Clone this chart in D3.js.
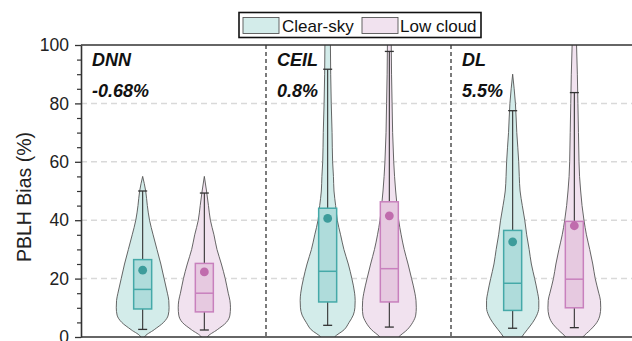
<!DOCTYPE html>
<html>
<head>
<meta charset="utf-8">
<script src="https://cdn.jsdelivr.net/npm/d3@7"></script>
<style>
  html, body { margin: 0; padding: 0; background: #fff; }
  svg { display: block; font-family: "Liberation Sans", Arial, sans-serif; }
</style>
</head>
<body>
<svg id="chart" width="632" height="341"></svg>
<script>
// ---- data -------------------------------------------------------------
const groups = ["DNN", "CEIL", "DL"];
const groupBias = ["-0.68%", "0.8%", "5.5%"];
const series = ["Clear-sky", "Low cloud"];
const yTicks = [0, 20, 40, 60, 80, 100];

// violin order: DNN clear, DNN low, CEIL clear, CEIL low, DL clear, DL low
const whiskerLow  = [2.6, 2.4, 4.0, 3.4, 3.0, 3.2];
const q1Values    = [9.6, 8.6, 12.0, 12.0, 9.1, 10.0];
const medians     = [16.3, 15.0, 22.5, 23.4, 18.4, 19.8];
const q3Values    = [26.5, 25.2, 44.1, 46.3, 36.5, 39.6];
const whiskerHigh = [50.0, 49.3, 91.7, 97.8, 77.5, 83.7];
const means       = [22.9, 22.3, 40.6, 41.5, 32.6, 38.1];

// kernel density (relative width) evaluated on a shared grid of bias values
const densityGrid = [-4, 0, 2.5, 5, 7.5, 10, 12.5, 15, 20, 25, 30, 35, 40, 45, 50, 55, 60, 70, 80, 90, 100, 110, 120];
const densityDnnClear  = [0, .07, .42, .76, .93, .96, .95, .90, .78, .66, .52, .38, .25, .17, .11, 0, 0, 0, 0, 0, 0, 0, 0];
const densityDnnLow    = [0, .11, .47, .80, .93, .95, .93, .87, .76, .62, .46, .35, .22, .15, .08, 0, 0, 0, 0, 0, 0, 0, 0];
const densityCeilClear = [.07, .25, .60, .78, .93, .99, 1.0, .98, .88, .75, .59, .47, .35, .29, .23, .21, .18, .16, .13, .11, .10, .05, 0];
const densityCeilLow   = [.15, .34, .65, .85, .96, .98, .97, .93, .81, .68, .54, .43, .34, .28, .23, .19, .16, .12, .10, .08, .07, .04, 0];
const densityDlClear   = [.15, .33, .53, .73, .88, .95, .95, .91, .80, .68, .60, .51, .44, .35, .27, .24, .22, .15, .10, 0, 0, 0, 0];
const densityDlLow     = [.13, .31, .59, .82, .93, .96, .95, .89, .76, .67, .56, .44, .35, .28, .23, .19, .17, .15, .13, .11, .08, .04, 0];
const densities = [densityDnnClear, densityDnnLow, densityCeilClear, densityCeilLow, densityDlClear, densityDlLow];

// ---- styling ----------------------------------------------------------
const palette = {
  "Clear-sky": { violin: "#d3ecea", box: "#afdcdb", stroke: "#45a9a8", dot: "#3d9c9b" },
  "Low cloud": { violin: "#f1e2ef", box: "#e6c9e0", stroke: "#c880bd", dot: "#c06cad" }
};

const svg = d3.select("#chart");
const plot = { left: 81, right: 636, top: 45, bottom: 337 };

const x = d3.scaleBand().domain(groups).range([plot.left, plot.right]).padding(0);
const xInner = d3.scalePoint().domain(series).range([0, x.bandwidth()]).padding(1);
const y = d3.scaleLinear().domain([0, 100]).range([plot.bottom, plot.top]);
const w = d3.scaleLinear().domain([0, 1]).range([0, 27.5]);

svg.append("defs").append("clipPath").attr("id", "plotClip")
  .append("rect")
  .attr("x", plot.left).attr("y", plot.top)
  .attr("width", plot.right - plot.left).attr("height", plot.bottom - plot.top);

// horizontal grid
svg.append("g").selectAll("line")
  .data(yTicks.filter(t => t > 0 && t < 100))
  .join("line")
  .attr("x1", plot.left).attr("x2", plot.right)
  .attr("y1", d => y(d)).attr("y2", d => y(d))
  .attr("stroke", "#d9d9d9").attr("stroke-width", 1.5)
  .attr("stroke-dasharray", "6,4");

// group separators
svg.append("g").selectAll("line")
  .data(groups.slice(1))
  .join("line")
  .attr("x1", d => x(d)).attr("x2", d => x(d))
  .attr("y1", plot.top).attr("y2", plot.bottom)
  .attr("stroke", "#444").attr("stroke-width", 1.4)
  .attr("stroke-dasharray", "4,3");

// keep the density profile only up to the tip where it closes to zero
function trimProfile(profile) {
  let last = profile.length - 1;
  while (last > 0 && profile[last].d === 0 && profile[last - 1].d === 0) last--;
  return profile.slice(0, last + 1);
}

// build violin records
const violins = [];
groups.forEach((g, gi) => {
  series.forEach((s, si) => {
    const i = gi * series.length + si;
    violins.push({
      group: g, series: s, i,
      cx: x(g) + xInner(s),
      density: trimProfile(densityGrid.map((v, k) => ({ v, d: densities[i][k] }))),
      lo: whiskerLow[i], q1: q1Values[i], med: medians[i],
      q3: q3Values[i], hi: whiskerHigh[i], mean: means[i]
    });
  });
});

const marks = svg.append("g").attr("clip-path", "url(#plotClip)");

const violinArea = (cx) => d3.area()
  .y(d => y(d.v))
  .x0(d => cx - w(d.d))
  .x1(d => cx + w(d.d))
  .curve(d3.curveMonotoneY);

const vg = marks.selectAll("g.violin").data(violins).join("g").attr("class", "violin");

vg.append("path")
  .attr("d", d => violinArea(d.cx)(d.density))
  .attr("fill", d => palette[d.series].violin)
  .attr("stroke", "#555").attr("stroke-width", 0.9);

// whiskers
const capHalf = 4.5;
vg.append("line")
  .attr("x1", d => d.cx).attr("x2", d => d.cx)
  .attr("y1", d => y(d.lo)).attr("y2", d => y(d.hi))
  .attr("stroke", "#333").attr("stroke-width", 1.1);
vg.append("line")
  .attr("x1", d => d.cx - capHalf).attr("x2", d => d.cx + capHalf)
  .attr("y1", d => y(d.lo)).attr("y2", d => y(d.lo))
  .attr("stroke", "#333").attr("stroke-width", 1.3);
vg.append("line")
  .attr("x1", d => d.cx - capHalf).attr("x2", d => d.cx + capHalf)
  .attr("y1", d => y(d.hi)).attr("y2", d => y(d.hi))
  .attr("stroke", "#333").attr("stroke-width", 1.3);

// boxes
const boxHalf = 9;
vg.append("rect")
  .attr("x", d => d.cx - boxHalf).attr("width", boxHalf * 2)
  .attr("y", d => y(d.q3)).attr("height", d => y(d.q1) - y(d.q3))
  .attr("fill", d => palette[d.series].box)
  .attr("stroke", d => palette[d.series].stroke).attr("stroke-width", 1.5);
vg.append("line")
  .attr("x1", d => d.cx - boxHalf).attr("x2", d => d.cx + boxHalf)
  .attr("y1", d => y(d.med)).attr("y2", d => y(d.med))
  .attr("stroke", d => palette[d.series].stroke).attr("stroke-width", 1.5);

// means
vg.append("circle")
  .attr("cx", d => d.cx).attr("cy", d => y(d.mean)).attr("r", 4.4)
  .attr("fill", d => palette[d.series].dot);

// frame lines
svg.append("line")
  .attr("x1", plot.left).attr("x2", plot.right)
  .attr("y1", plot.top).attr("y2", plot.top)
  .attr("stroke", "#333").attr("stroke-width", 1.6);
svg.append("line")
  .attr("x1", plot.left).attr("x2", plot.right)
  .attr("y1", plot.bottom).attr("y2", plot.bottom)
  .attr("stroke", "#333").attr("stroke-width", 1.6);

// y axis: minor ticks then major ticks with labels
const minorTicks = d3.range(0, 101, 5).filter(t => t % 20 !== 0);
svg.append("g")
  .attr("transform", `translate(${plot.left},0)`)
  .call(d3.axisLeft(y).tickValues(minorTicks).tickSize(4).tickFormat(""))
  .call(g => g.select(".domain").remove())
  .call(g => g.selectAll("line").attr("stroke", "#333").attr("stroke-width", 1.2));

const yAxis = svg.append("g")
  .attr("transform", `translate(${plot.left},0)`)
  .call(d3.axisLeft(y).tickValues(yTicks).tickSize(6).tickPadding(6).tickSizeOuter(0));
yAxis.select(".domain").attr("stroke", "#333").attr("stroke-width", 1.6);
yAxis.selectAll(".tick line").attr("stroke", "#333").attr("stroke-width", 1.3);
yAxis.selectAll(".tick text")
  .attr("font-size", 17.5).attr("fill", "#222")
  .style("font-family", "'Liberation Sans', Arial, sans-serif");

svg.append("text")
  .attr("transform", `translate(31,${(plot.top + plot.bottom) / 2 + 6}) rotate(-90)`)
  .attr("text-anchor", "middle")
  .attr("font-size", 19.5).attr("fill", "#222")
  .text("PBLH Bias (%)");

// group annotations
const ann = svg.append("g")
  .attr("font-size", 18).attr("font-weight", "bold").attr("font-style", "italic").attr("fill", "#111");
groups.forEach((g, gi) => {
  ann.append("text").attr("x", x(g) + 11).attr("y", 66).text(g);
  ann.append("text").attr("x", x(g) + 11).attr("y", 96.5).text(groupBias[gi]);
});

// legend
const legend = svg.append("g");
legend.append("rect")
  .attr("x", 239).attr("y", 12.5).attr("width", 242).attr("height", 25)
  .attr("fill", "#fff").attr("stroke", "#111").attr("stroke-width", 1.6);
const legendPatchX = [243, 362];
const legendTextX = [282, 400];
series.forEach((s, si) => {
  legend.append("rect")
    .attr("x", legendPatchX[si]).attr("y", 17.5).attr("width", 36).attr("height", 16)
    .attr("fill", palette[s].violin).attr("stroke", "#555").attr("stroke-width", 0.9);
  legend.append("text")
    .attr("x", legendTextX[si]).attr("y", 31.5)
    .attr("font-size", 17).attr("fill", "#111")
    .text(s);
});
</script>
</body>
</html>
